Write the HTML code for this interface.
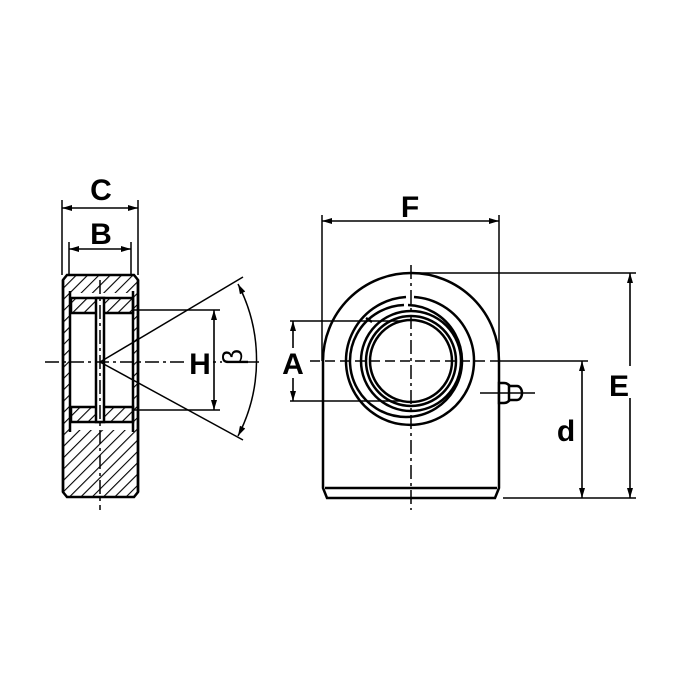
<!DOCTYPE html>
<html><head><style>body{margin:0;background:#fff}svg{display:block}</style></head><body>
<svg width="694" height="694" viewBox="0 0 694 694" xmlns="http://www.w3.org/2000/svg">
<defs>
<pattern id="h" width="8" height="8" patternUnits="userSpaceOnUse" patternTransform="rotate(45)">
<line x1="0" y1="0" x2="0" y2="8" stroke="#000" stroke-width="2.2"/></pattern>
<marker id="a" viewBox="0 0 10 6" refX="10" refY="3" markerWidth="11" markerHeight="6" orient="auto-start-reverse" markerUnits="userSpaceOnUse"><path d="M0,0 L10,3 L0,6z" fill="#000"/></marker>
</defs>
<g stroke="#000" fill="none" stroke-width="2.5">
<!-- left view -->
<path d="M67,275 H134 L138,280 V492 L134,497 H67 L63,492 V280 Z" fill="url(#h)"/>
<rect x="70" y="293" width="63" height="137" fill="#fff" stroke="none"/>
<rect x="71" y="298" width="62" height="15" fill="url(#h)"/>
<rect x="71" y="407" width="62" height="15" fill="url(#h)"/>
<line x1="70" y1="291" x2="70" y2="432"/><line x1="133" y1="291" x2="133" y2="432"/>
<line x1="63" y1="280" x2="63" y2="492"/><line x1="138" y1="280" x2="138" y2="492"/>
<rect x="96" y="298" width="8" height="124" fill="#fff"/>
<line x1="100" y1="280" x2="100" y2="510" stroke-width="1.5" stroke-dasharray="14,4,3,4"/>
<line x1="45" y1="362" x2="260" y2="362" stroke-width="1.5" stroke-dasharray="14,4,3,4"/>
<!-- C B dims -->
<line x1="62" y1="200" x2="62" y2="275" stroke-width="1.5"/><line x1="138" y1="200" x2="138" y2="275" stroke-width="1.5"/>
<line x1="62" y1="208" x2="138" y2="208" stroke-width="1.6" marker-start="url(#a)" marker-end="url(#a)"/>
<line x1="69" y1="242" x2="69" y2="275" stroke-width="1.5"/><line x1="131" y1="242" x2="131" y2="275" stroke-width="1.5"/>
<line x1="69" y1="249" x2="131" y2="249" stroke-width="1.6" marker-start="url(#a)" marker-end="url(#a)"/>
<!-- H -->
<line x1="133" y1="310" x2="220" y2="310" stroke-width="1.5"/><line x1="133" y1="410" x2="220" y2="410" stroke-width="1.5"/>
<line x1="214" y1="310" x2="214" y2="410" stroke-width="1.6" marker-start="url(#a)" marker-end="url(#a)"/>
<!-- beta -->
<line x1="100" y1="362" x2="243" y2="277" stroke-width="1.5"/><line x1="100" y1="362" x2="243" y2="440" stroke-width="1.5"/>
<path d="M238,284 A165,165 0 0 1 238,436" stroke-width="1.5" marker-start="url(#a)" marker-end="url(#a)"/>
<!-- right view -->
<path d="M323,361 A88,88 0 0 1 499,361 V488 L495,498 H327 L323,488 Z"/>
<line x1="325" y1="488" x2="497" y2="488"/>
<path d="M414,297 A64,64 0 1 1 406,297"/>
<path d="M408,305 A56,56 0 1 1 404,305"/>
<path d="M372,322 l-6,-4"/>
<circle cx="411" cy="361" r="50"/><circle cx="411" cy="361" r="45"/><circle cx="411" cy="361" r="41"/>
<line x1="411" y1="265" x2="411" y2="510" stroke-width="1.5" stroke-dasharray="14,4,3,4"/>
<line x1="310" y1="361" x2="500" y2="361" stroke-width="1.5" stroke-dasharray="10,5"/>
<line x1="500" y1="361" x2="588" y2="361" stroke-width="1.5"/>
<!-- nipple -->
<path d="M499,383 h5 a8,10 0 0 1 0,20 h-5z" fill="#fff"/><path d="M509,386 h8 a5,7 0 0 1 0,14 h-8z" fill="#fff"/>
<line x1="480" y1="393" x2="535" y2="393" stroke-width="1.5"/>
<!-- F -->
<line x1="322" y1="215" x2="322" y2="361" stroke-width="1.5"/><line x1="499" y1="215" x2="499" y2="361" stroke-width="1.5"/>
<line x1="322" y1="221" x2="499" y2="221" stroke-width="1.6" marker-start="url(#a)" marker-end="url(#a)"/>
<!-- A -->
<line x1="290" y1="321" x2="400" y2="321" stroke-width="1.5"/><line x1="290" y1="401" x2="400" y2="401" stroke-width="1.5"/>
<line x1="293" y1="321" x2="293" y2="401" stroke-width="1.6" marker-start="url(#a)" marker-end="url(#a)"/>
<!-- E d -->
<line x1="415" y1="273" x2="636" y2="273" stroke-width="1.5"/><line x1="503" y1="498" x2="636" y2="498" stroke-width="1.5"/>
<line x1="630" y1="273" x2="630" y2="498" stroke-width="1.6" marker-start="url(#a)" marker-end="url(#a)"/>
<line x1="582" y1="361" x2="582" y2="498" stroke-width="1.6" marker-start="url(#a)" marker-end="url(#a)"/>
</g>
<g font-family="Liberation Sans, sans-serif" font-weight="bold" font-size="30" text-anchor="middle">
<rect x="86" y="176" width="30" height="28" fill="#fff"/>
<text x="101" y="200">C</text>
<text x="101" y="244">B</text>
<rect x="186" y="345" width="26" height="32" fill="#fff"/>
<text x="200" y="374">H</text>
<rect x="222" y="342" width="22" height="34" fill="#fff"/>
<text x="233" y="366" transform="rotate(-90 233 357)" font-weight="normal" font-size="28">β</text>
<rect x="279" y="348" width="28" height="30" fill="#fff"/>
<text x="293" y="374">A</text>
<text x="410" y="217">F</text>
<rect x="604" y="366" width="28" height="32" fill="#fff"/>
<text x="619" y="396">E</text>
<text x="566" y="441">d</text>
</g>
</svg>
</body></html>
